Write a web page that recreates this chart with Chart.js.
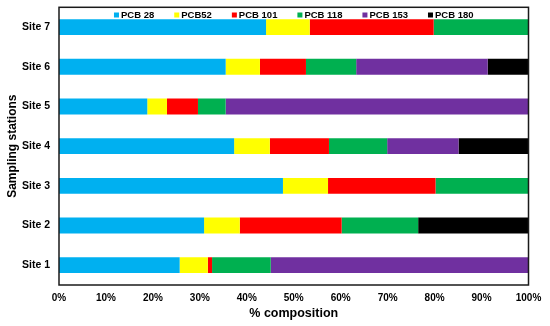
<!DOCTYPE html>
<html>
<head>
<meta charset="utf-8">
<script src="https://cdn.jsdelivr.net/npm/chart.js@4"></script>
<style>
  html, body { margin: 0; padding: 0; background: #fff; }
  #chart { display: block; }
</style>
</head>
<body>
<canvas id="chart" width="550" height="326"></canvas>
<script>
const sites = ['Site 1', 'Site 2', 'Site 3', 'Site 4', 'Site 5', 'Site 6', 'Site 7'];
const congeners = ['PCB 28', 'PCB52', 'PCB 101', 'PCB 118', 'PCB 153', 'PCB 180'];
const colors = ['#00B0F0', '#FFFF00', '#FF0000', '#00B050', '#7030A0', '#000000'];

// % composition, Site 1 .. Site 7
const pcb28  = [25.7, 30.9, 47.7, 37.3, 18.8, 35.5, 44.1];
const pcb52  = [6.0, 7.6, 9.6, 7.6, 4.2, 7.3, 9.3];
const pcb101 = [0.9, 21.7, 22.9, 12.6, 6.6, 9.8, 26.4];
const pcb118 = [12.5, 16.3, 19.8, 12.4, 5.9, 10.7, 20.2];
const pcb153 = [54.9, 0, 0, 15.2, 64.5, 28.0, 0];
const pcb180 = [0, 23.5, 0, 14.9, 0, 8.7, 0];

const xTicks = [0, 10, 20, 30, 40, 50, 60, 70, 80, 90, 100];

const series = [pcb28, pcb52, pcb101, pcb118, pcb153, pcb180];
const FONT = 'Liberation Sans, Arial, sans-serif';

// frame round the plot + legend inside the top of it
const framePlugin = {
  id: 'frame',
  afterDraw(chart) {
    const { ctx, chartArea: a } = chart;
    ctx.save();
    ctx.strokeStyle = '#1a1a1a';
    ctx.lineWidth = 1.5;
    ctx.strokeRect(a.left, a.top, a.right - a.left, a.bottom - a.top);

    ctx.font = 'bold 9.5px ' + FONT;
    ctx.textBaseline = 'middle';
    const box = 5, gap = 2, itemGap = 20;
    const widths = congeners.map(c => ctx.measureText(c).width);
    let total = widths.reduce((s, w) => s + box + gap + w, 0) + itemGap * (congeners.length - 1);
    let x = (a.left + a.right) / 2 - total / 2;
    const y = a.top + 7.7;
    congeners.forEach((c, i) => {
      ctx.fillStyle = colors[i];
      ctx.fillRect(x, y - box / 2, box, box);
      x += box + gap;
      ctx.fillStyle = '#000';
      ctx.fillText(c, x, y);
      x += widths[i] + itemGap;
    });
    ctx.restore();
  }
};

new Chart(document.getElementById('chart'), {
  type: 'bar',
  data: {
    labels: sites,
    datasets: congeners.map((name, i) => ({
      label: name,
      data: series[i],
      backgroundColor: colors[i],
      borderWidth: 0,
      barPercentage: 0.4,
      categoryPercentage: 1
    }))
  },
  options: {
    indexAxis: 'y',
    responsive: false,
    animation: false,
    layout: { padding: { top: 7.3, right: 21.5, bottom: 5, left: 5 } },
    plugins: {
      legend: { display: false },
      tooltip: { enabled: false }
    },
    scales: {
      x: {
        stacked: true,
        min: 0,
        max: 100,
        afterBuildTicks: s => { s.ticks = xTicks.map(v => ({ value: v })); },
        grid: { display: false, drawTicks: false },
        border: { display: false },
        ticks: {
          padding: 7,
          color: '#000',
          font: { family: FONT, size: 10, weight: 'bold' },
          callback: v => v + '%'
        },
        title: {
          display: true,
          text: '% composition',
          color: '#000',
          padding: 0,
          font: { family: FONT, size: 12.5, weight: 'bold' }
        },
        afterFit: s => { s.height = 36; }
      },
      y: {
        stacked: true,
        reverse: true,
        grid: { display: false, drawTicks: false },
        border: { display: false },
        ticks: {
          padding: 9,
          color: '#000',
          font: { family: FONT, size: 10.5, weight: 'bold' }
        },
        title: {
          display: true,
          text: 'Sampling stations',
          color: '#000',
          padding: 0,
          font: { family: FONT, size: 12, weight: 'bold' }
        },
        afterFit: s => {
          s.width = 54;
          s.paddingTop = 0;
          s.paddingBottom = 0;
        }
      }
    }
  },
  plugins: [framePlugin]
});
</script>
</body>
</html>
